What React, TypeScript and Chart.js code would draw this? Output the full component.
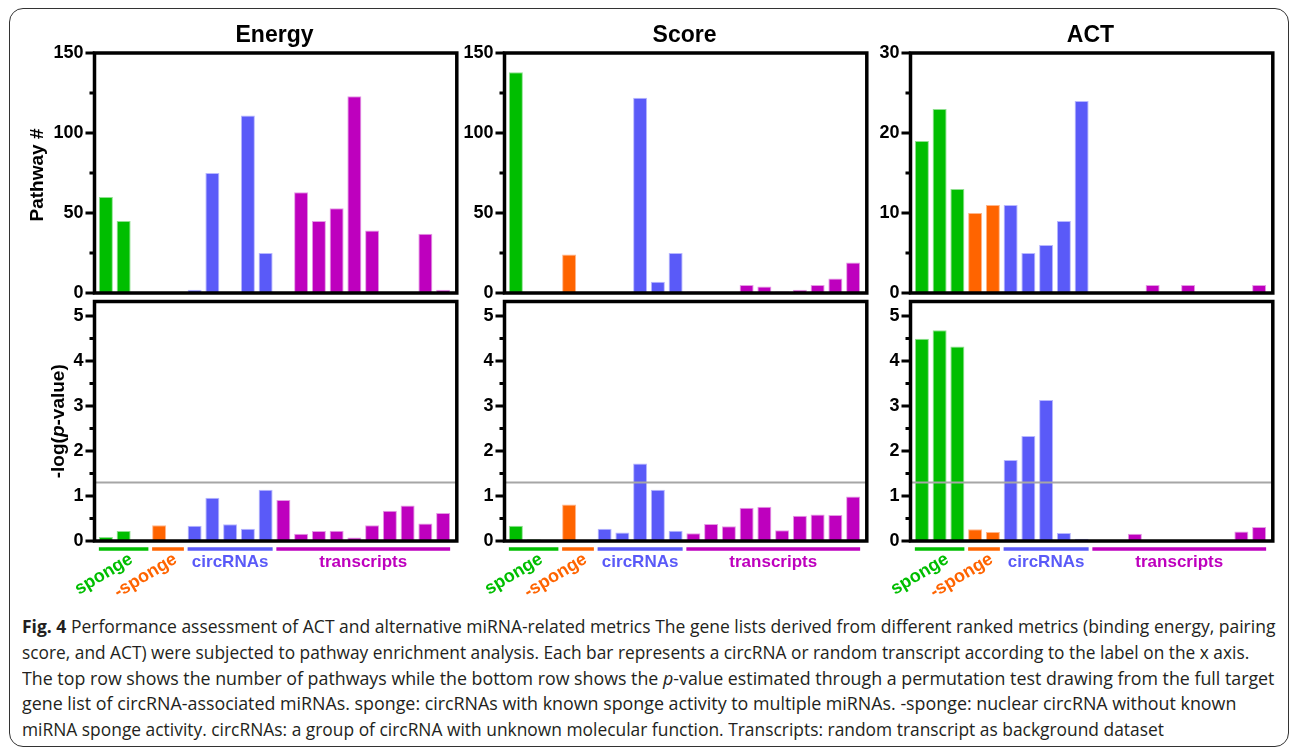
import React, { useEffect, useLayoutEffect, useRef } from 'react';
import { Chart, registerables } from 'chart.js';

Chart.register(...registerables);

const FONT = "'Liberation Sans', Arial, Helvetica, sans-serif";

// ---------------- data ----------------
const metricTitles = ['Energy', 'Score', 'ACT'];

const categories = [
  'sponge 1', 'sponge 2', 'sponge 3',
  '-sponge 1', '-sponge 2',
  'circRNA 1', 'circRNA 2', 'circRNA 3', 'circRNA 4', 'circRNA 5',
  'transcript 1', 'transcript 2', 'transcript 3', 'transcript 4', 'transcript 5',
  'transcript 6', 'transcript 7', 'transcript 8', 'transcript 9', 'transcript 10',
];

const groupNames = ['sponge', '-sponge', 'circRNAs', 'transcripts'];
const groupSizes = [3, 2, 5, 10];

// Pathway # (top row)
const energyPathways = [60, 45, 0, 0, 0, 2, 75, 0, 111, 25, 0, 63, 45, 53, 123, 39, 0, 0, 37, 2];
const scorePathways = [138, 0, 0, 24, 0, 0, 0, 122, 7, 25, 1, 0, 0, 5, 4, 1, 2, 5, 9, 19];
const actPathways = [19, 23, 13, 10, 11, 11, 5, 6, 9, 24, 0, 0, 0, 1, 0, 1, 0, 0, 0, 1];

// -log(p-value) (bottom row)
const energyLogP = [0.09, 0.22, 0, 0.35, 0, 0.34, 0.96, 0.37, 0.27, 1.14, 0.91, 0.16, 0.22, 0.23, 0.08, 0.35, 0.67, 0.79, 0.39, 0.62];
const scoreLogP = [0.34, 0.04, 0, 0.81, 0, 0.27, 0.19, 1.72, 1.14, 0.23, 0.17, 0.38, 0.33, 0.74, 0.76, 0.24, 0.56, 0.59, 0.58, 0.99];
const actLogP = [4.49, 4.68, 4.32, 0.26, 0.2, 1.8, 2.33, 3.13, 0.18, 0.05, 0, 0, 0.16, 0, 0, 0, 0, 0, 0.21, 0.31];

// tick labels
const pathwayTicksEnergy = [0, 50, 100, 150];
const pathwayTicksScore = [0, 50, 100, 150];
const pathwayTicksACT = [0, 10, 20, 30];
const logPTicks = [0, 1, 2, 3, 4, 5];
const logPMax = 5.32;
const significanceLine = 1.3; // -log10(0.05)

// ---------------- styles ----------------
const groupColors = ['#00BE00', '#FF6400', '#5A5AF8', '#BE00BE'];
const groupEdgeColors = ['#8fe08f', '#ffb58a', '#b8b8ff', '#e49be4'];
const groupRotated = [true, true, false, false];

const barGroupIndex: number[] = [];
groupSizes.forEach((n, g) => {
  for (let k = 0; k < n; k++) barGroupIndex.push(g);
});

// the drawn frame extends slightly beyond the category area
const BOX_EXT_L = 2.5;
const BOX_EXT_R = 4.8;

const decorPlugin = {
  id: 'decor',
  afterDatasetsDraw(chart: any) {
    const o = chart.options.plugins.decor;
    const { ctx, chartArea: a } = chart;
    const ys = chart.scales.y;
    const bl = a.left - BOX_EXT_L;
    const br = a.right + BOX_EXT_R;
    ctx.save();

    if (o.threshold != null) {
      const ty = ys.getPixelForValue(o.threshold);
      ctx.strokeStyle = '#a6a6a6';
      ctx.lineWidth = 2;
      ctx.beginPath();
      ctx.moveTo(bl, ty);
      ctx.lineTo(br, ty);
      ctx.stroke();
    }

    // box
    ctx.strokeStyle = '#000';
    ctx.lineWidth = 3.5;
    ctx.strokeRect(bl, a.top, br - bl, a.bottom - a.top);

    // tick marks
    ctx.lineWidth = 3;
    ctx.beginPath();
    const ticks: number[] = o.ticks;
    ticks.forEach((v: number) => {
      const py = ys.getPixelForValue(v);
      ctx.moveTo(bl - 9, py);
      ctx.lineTo(bl, py);
      const mv = v + o.minorStep;
      if (mv < ys.max) {
        const pm = ys.getPixelForValue(mv);
        ctx.moveTo(bl - 5, pm);
        ctx.lineTo(bl, pm);
      }
    });
    ctx.stroke();

    // y-axis titles
    ctx.fillStyle = '#000';
    if (o.yTitle === 'pathway') {
      ctx.save();
      ctx.translate(bl - 57, (a.top + a.bottom) / 2 + 2);
      ctx.rotate(-Math.PI / 2);
      ctx.font = `bold 19px ${FONT}`;
      ctx.textAlign = 'center';
      ctx.textBaseline = 'middle';
      ctx.fillText('Pathway #', 0, 0);
      ctx.restore();
    } else if (o.yTitle === 'logp') {
      const segs: [string, string][] = [
        ['-log(', `bold 19px ${FONT}`],
        ['p', `italic bold 19px ${FONT}`],
        ['-value)', `bold 19px ${FONT}`],
      ];
      ctx.save();
      ctx.translate(bl - 36, (a.top + a.bottom) / 2);
      ctx.rotate(-Math.PI / 2);
      ctx.textBaseline = 'middle';
      ctx.textAlign = 'left';
      let total = 0;
      segs.forEach(([t, f]) => {
        ctx.font = f;
        total += ctx.measureText(t).width;
      });
      let x = -total / 2;
      segs.forEach(([t, f]) => {
        ctx.font = f;
        ctx.fillText(t, x, 0);
        x += ctx.measureText(t).width;
      });
      ctx.restore();
    }

    // group annotations
    if (o.groups) {
      const meta = chart.getDatasetMeta(0);
      let start = 0;
      groupSizes.forEach((n: number, g: number) => {
        const first = meta.data[start];
        const last = meta.data[start + n - 1];
        const x0 = first.x - first.width / 2;
        const x1 = last.x + last.width / 2;
        const uy = a.bottom + 8;
        ctx.strokeStyle = groupColors[g];
        ctx.lineWidth = 3.5;
        ctx.beginPath();
        ctx.moveTo(x0, uy);
        ctx.lineTo(x1, uy);
        ctx.stroke();
        ctx.fillStyle = groupColors[g];
        const cx = (x0 + x1) / 2;
        if (groupRotated[g]) {
          ctx.save();
          ctx.font = `bold 18px ${FONT}`;
          ctx.translate(cx + 3, uy + 1);
          ctx.rotate((-31 * Math.PI) / 180);
          ctx.textAlign = 'right';
          ctx.textBaseline = 'top';
          ctx.fillText(groupNames[g], 0, 0);
          ctx.restore();
        } else {
          ctx.font = `bold 17px ${FONT}`;
          ctx.textAlign = 'center';
          ctx.textBaseline = 'middle';
          ctx.fillText(groupNames[g], cx, uy + 13);
        }
        start += n;
      });
    }
    ctx.restore();
  },
};

type PanelProps = {
  values: number[];
  ticks: number[];
  yMax: number;
  minorStep: number;
  title?: string;
  yTitle?: string;
  bottomRow: boolean;
  left: number;
  top: number;
};

const AREA_W = 355;
const Y_AXIS_W = 62;
const PAD_L = 25;
const PAD_R = 15;

function Panel(p: PanelProps) {
  const ref = useRef<HTMLCanvasElement>(null);
  const width = AREA_W + Y_AXIS_W + PAD_L + PAD_R;
  const height = p.bottomRow ? 320 : 299;
  useEffect(() => {
    if (!ref.current) return;
    const chart = new Chart(ref.current, {
      type: 'bar',
      data: {
        labels: categories,
        datasets: [
          {
            data: p.values,
            backgroundColor: barGroupIndex.map((g) => groupColors[g]),
            borderColor: barGroupIndex.map((g) => groupEdgeColors[g]),
            borderWidth: 1,
            barPercentage: 0.79,
            categoryPercentage: 1,
          },
        ],
      },
      options: {
        animation: false,
        responsive: false,
        maintainAspectRatio: false,
        devicePixelRatio: 1,
        layout: {
          padding: p.bottomRow
            ? { top: 16.5, bottom: 64, left: PAD_L, right: PAD_R }
            : { top: 11.4, bottom: 16, left: PAD_L, right: PAD_R },
        },
        scales: {
          x: { type: 'category', offset: true, display: false },
          y: {
            type: 'linear',
            min: 0,
            max: p.yMax,
            grid: { display: false, tickLength: 9 },
            border: { display: false },
            ticks: {
              padding: 4.5,
              color: '#000',
              font: { family: FONT, size: 18, weight: 'bold' },
              callback: (v: any) => String(v),
            },
            afterBuildTicks: (s: any) => {
              s.ticks = p.ticks.map((v) => ({ value: v }));
            },
            afterFit: (s: any) => {
              s.width = Y_AXIS_W;
            },
          },
        },
        plugins: {
          legend: { display: false },
          tooltip: { enabled: false },
          title: {
            display: !!p.title,
            text: p.title || '',
            color: '#000',
            font: { family: FONT, size: 23, weight: 'bold' },
            padding: { top: 0, bottom: 4 },
            fullSize: false,
          },
          decor: {
            ticks: p.ticks,
            minorStep: p.minorStep,
            threshold: p.bottomRow ? significanceLine : null,
            yTitle: p.yTitle || null,
            groups: p.bottomRow,
          },
        } as any,
      } as any,
      plugins: [decorPlugin],
    });
    return () => chart.destroy();
  }, []);
  return (
    <canvas
      ref={ref}
      width={width}
      height={height}
      style={{ position: 'absolute', left: p.left, top: p.top, width, height }}
    />
  );
}

const captionLines: { t: string; b?: boolean; i?: boolean }[][] = [
  [
    { t: 'Fig. 4', b: true },
    { t: ' Performance assessment of ACT and alternative miRNA-related metrics The gene lists derived from different ranked metrics (binding energy, pairing' },
  ],
  [{ t: 'score, and ACT) were subjected to pathway enrichment analysis. Each bar represents a circRNA or random transcript according to the label on the x axis.' }],
  [
    { t: 'The top row shows the number of pathways while the bottom row shows the ' },
    { t: 'p', i: true },
    { t: '-value estimated through a permutation test drawing from the full target' },
  ],
  [{ t: 'gene list of circRNA-associated miRNAs. sponge: circRNAs with known sponge activity to multiple miRNAs. -sponge: nuclear circRNA without known' }],
  [{ t: 'miRNA sponge activity. circRNAs: a group of circRNA with unknown molecular function. Transcripts: random transcript as background dataset' }],
];
const captionTargetWidths = [1253, 1227, 1252, 1214, 1142];

function Caption() {
  const refs = useRef<(HTMLDivElement | null)[]>([]);
  useLayoutEffect(() => {
    const fit = () => {
      refs.current.forEach((el, i) => {
        if (!el) return;
        el.style.transform = 'none';
        const w = el.offsetWidth;
        if (w > 0) el.style.transform = `scaleX(${captionTargetWidths[i] / w})`;
      });
    };
    fit();
    (document as any).fonts?.ready?.then(fit);
  }, []);
  return (
    <>
      {captionLines.map((line, i) => (
        <div
          key={i}
          ref={(el) => {
            refs.current[i] = el;
          }}
          style={{
            position: 'absolute',
            left: 22,
            top: 615 + i * 25.8,
            fontFamily: "'Open Sans', 'Noto Sans', sans-serif",
            fontSize: 18,
            lineHeight: '22px',
            color: '#231f20',
            whiteSpace: 'nowrap',
            transformOrigin: '0 0',
            display: 'inline-block',
          }}
        >
          {line.map((s, k) => (
            <span
              key={k}
              style={{ fontWeight: s.b ? 700 : 400, fontStyle: s.i ? 'italic' : 'normal' }}
            >
              {s.t}
            </span>
          ))}
        </div>
      ))}
    </>
  );
}

export default function App() {
  const topData = [energyPathways, scorePathways, actPathways];
  const topTicks = [pathwayTicksEnergy, pathwayTicksScore, pathwayTicksACT];
  const topMax = [150, 150, 30];
  const topMinor = [25, 25, 5];
  const bottomData = [energyLogP, scoreLogP, actLogP];
  // left edges of the category (bar) areas
  const areaLefts = [96.5, 506.5, 912.5];
  return (
    <div
      style={{
        position: 'absolute',
        left: 0,
        top: 0,
        width: 1290,
        height: 749,
        background: '#fff',
        overflow: 'hidden',
      }}
    >
      <div
        style={{
          position: 'absolute',
          left: 9,
          top: 8,
          width: 1280,
          height: 739,
          border: '1.5px solid #333',
          borderRadius: 14,
          boxSizing: 'border-box',
        }}
      />
      {metricTitles.map((t, c) => (
        <Panel
          key={'top' + c}
          values={topData[c]}
          ticks={topTicks[c]}
          yMax={topMax[c]}
          minorStep={topMinor[c]}
          title={t}
          yTitle={c === 0 ? 'pathway' : undefined}
          bottomRow={false}
          left={areaLefts[c] - Y_AXIS_W - PAD_L}
          top={10}
        />
      ))}
      {metricTitles.map((t, c) => (
        <Panel
          key={'bot' + c}
          values={bottomData[c]}
          ticks={logPTicks}
          yMax={logPMax}
          minorStep={0.5}
          yTitle={c === 0 ? 'logp' : undefined}
          bottomRow={true}
          left={areaLefts[c] - Y_AXIS_W - PAD_L}
          top={285}
        />
      ))}
      <Caption />
    </div>
  );
}
